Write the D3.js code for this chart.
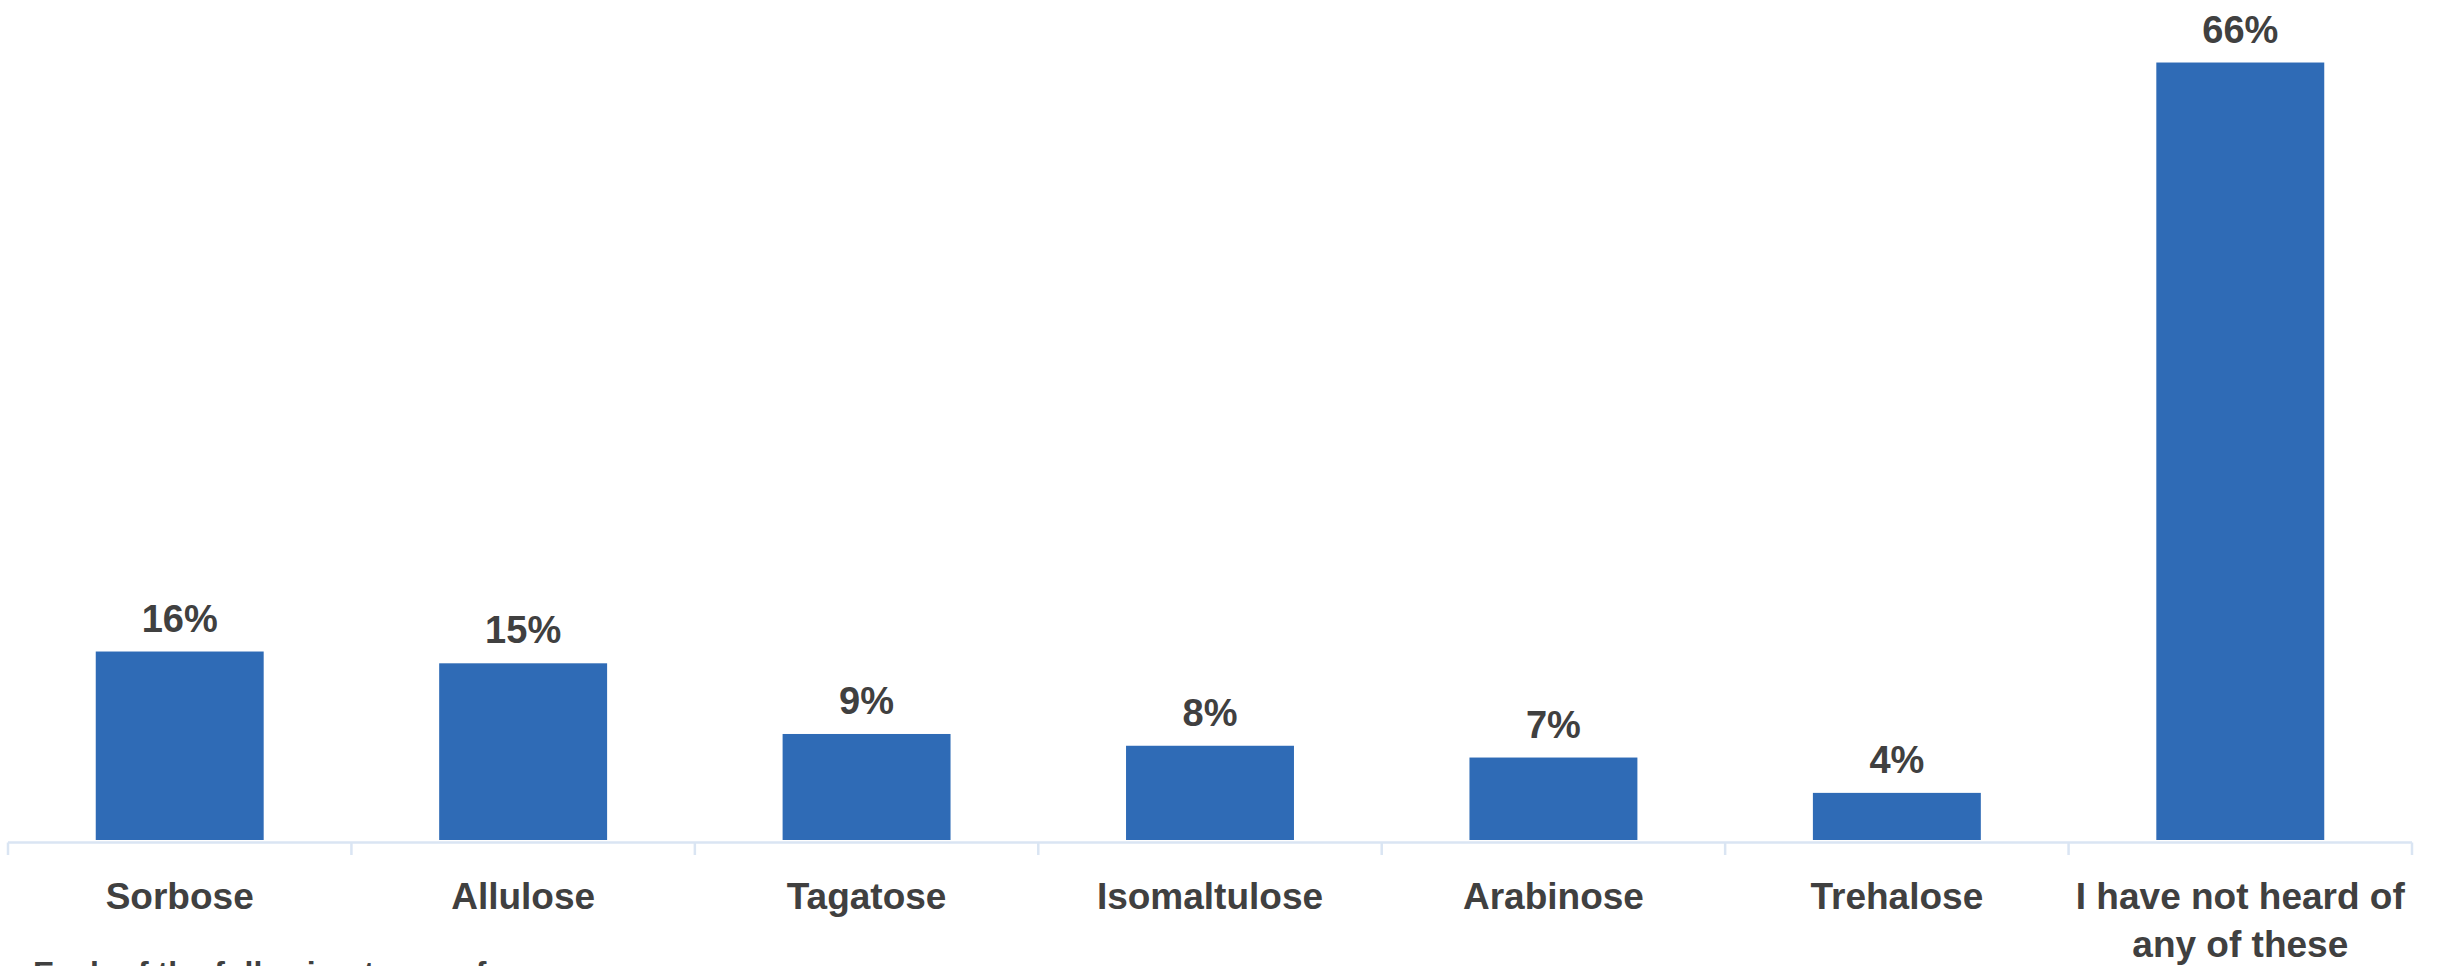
<!DOCTYPE html>
<html>
<head>
<meta charset="utf-8">
<script src="https://cdn.jsdelivr.net/npm/d3@7"></script>
<style>
  html, body { margin: 0; padding: 0; background: #ffffff; overflow: hidden; }
  svg { display: block; }
</style>
</head>
<body>
<svg id="chart" width="2440" height="966"></svg>
<script>
// Awareness of alternative sugars (% of respondents)
const categories = [
  ["Sorbose"],
  ["Allulose"],
  ["Tagatose"],
  ["Isomaltulose"],
  ["Arabinose"],
  ["Trehalose"],
  ["I have not heard of", "any of these"]
];
const values = [16, 15, 9, 8, 7, 4, 66];
const valueLabels = ["16%", "15%", "9%", "8%", "7%", "4%", "66%"];
const footnote = "Each of the following types of";

const W = 2440, H = 966;
const left = 8, right = 2412;
const baseY = 840;

const svg = d3.select("#chart");

const keys = categories.map(c => c.join(" "));
const x = d3.scaleBand()
  .domain(keys)
  .range([left, right])
  .paddingInner(0.511)
  .paddingOuter(0.2555);

const y = d3.scaleLinear()
  .domain([0, 70])
  .range([baseY, baseY - 70 * 11.78]);

const barColor = "#2f6bb6";
const textColor = "#404040";
const axisColor = "#dae5f3";
const font = "'Liberation Sans', Arial, sans-serif";

// bars
svg.append("g").selectAll("rect")
  .data(values)
  .join("rect")
  .attr("x", (d, i) => x(keys[i]))
  .attr("y", d => y(d))
  .attr("width", x.bandwidth())
  .attr("height", d => y(0) - y(d))
  .attr("fill", barColor);

// value labels
svg.append("g").selectAll("text")
  .data(values)
  .join("text")
  .attr("x", (d, i) => x(keys[i]) + x.bandwidth() / 2)
  .attr("y", d => y(d) - 20)
  .attr("text-anchor", "middle")
  .attr("font-family", font)
  .attr("font-weight", "bold")
  .attr("font-size", 38)
  .attr("fill", textColor)
  .text((d, i) => valueLabels[i]);

// category axis with ticks on band boundaries
const axisY = 842.5;
const axis = svg.append("g");
axis.append("line")
  .attr("x1", left).attr("x2", right)
  .attr("y1", axisY).attr("y2", axisY)
  .attr("stroke", axisColor).attr("stroke-width", 2.5);
const step = x.step();
const bounds = d3.range(keys.length + 1).map(i => left + i * step);
axis.selectAll("line.tick")
  .data(bounds)
  .join("line")
  .attr("class", "tick")
  .attr("x1", d => d).attr("x2", d => d)
  .attr("y1", axisY).attr("y2", axisY + 12.5)
  .attr("stroke", axisColor).attr("stroke-width", 2.5);

// category labels
const catG = svg.append("g");
categories.forEach((lines, i) => {
  const t = catG.append("text")
    .attr("x", x(keys[i]) + x.bandwidth() / 2)
    .attr("y", 909)
    .attr("text-anchor", "middle")
    .attr("font-family", font)
    .attr("font-weight", "bold")
    .attr("font-size", 37)
    .attr("fill", textColor);
  lines.forEach((ln, j) => {
    t.append("tspan")
      .attr("x", x(keys[i]) + x.bandwidth() / 2)
      .attr("dy", j === 0 ? 0 : 48)
      .text(ln);
  });
});

// footnote, running off the bottom edge
svg.append("text")
  .attr("x", 33)
  .attr("y", 984)
  .attr("font-family", font)
  .attr("font-weight", "bold")
  .attr("font-size", 32)
  .attr("fill", textColor)
  .text(footnote);
</script>
</body>
</html>
